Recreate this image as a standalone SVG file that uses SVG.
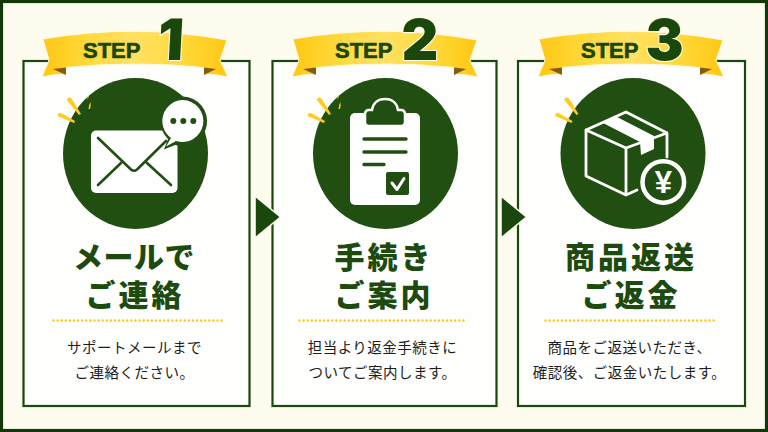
<svg xmlns="http://www.w3.org/2000/svg" xmlns:xlink="http://www.w3.org/1999/xlink" width="768" height="432" viewBox="0 0 768 432">
<style>
.card{fill:#fefefc;stroke:#1a470c;stroke-width:2.2}
.disc{fill:#214e11}
.h{font-family:"Noto Sans CJK JP","Noto Sans CJK SC",sans-serif;font-weight:900;font-size:30px;fill:#1d4a0e;text-anchor:middle;letter-spacing:3px}
.hn{letter-spacing:.5px}
.d{font-family:"Noto Sans CJK JP","Noto Sans CJK SC",sans-serif;font-weight:400;font-size:14.500px;fill:#1d1d1d;text-anchor:middle;letter-spacing:.5px}
.step{font-family:"Liberation Sans",sans-serif;font-weight:700;font-size:22px;fill:#1a470c;stroke:#1a470c;stroke-width:.6}
.num{font-family:"Inter","Liberation Sans",sans-serif;font-weight:900;font-size:57px;fill:#1a470c;stroke:#fffbe0;stroke-width:2.200;paint-order:stroke;text-anchor:middle}
.dots{stroke:#ffc414;stroke-width:2.400;stroke-linecap:round;stroke-dasharray:0 4.100;fill:none}
.spark{fill:#ffcb1f}
.dk{fill:none;stroke:#214e11;stroke-linecap:round;stroke-linejoin:round}
.wl{fill:none;stroke:#fff;stroke-width:2.800;stroke-linejoin:round;stroke-linecap:round}
.arrow{fill:#1a470c;stroke:#fffdf0;stroke-width:1.600;stroke-linejoin:round}
</style>
<defs>
<linearGradient id="gold" x1="0" x2="1" y1="0" y2="0">
<stop offset="0" stop-color="#ffc812"/><stop offset=".3" stop-color="#ffdc45"/><stop offset=".5" stop-color="#ffe062"/><stop offset=".72" stop-color="#ffdb40"/><stop offset="1" stop-color="#ffc812"/>
</linearGradient>
<g id="ribbon">
<path d="M-92 39Q0 23 92 40L85 60L93 77Q80 74 69 74L69 67.500Q0 60.500 -69 67.500L-69 74Q-80 74 -93 77L-86 60Z" fill="url(#gold)" stroke="#fffbe6" stroke-width="1"/>
<path d="M-82 69L-69 67.500L-69 75Z" fill="#8a5a10"/>
<path d="M81 69L69 67.500L69 75Z" fill="#8a5a10"/>
</g>
<g id="sparks" class="spark">
<path d="M66.500 99.500Q69 96 71.500 98.500L81 114L79 115Z"/>
<path d="M57.500 116Q58 112 62 113.500L75 121L74 123Z"/>
</g>
</defs>
<rect width="768" height="432" fill="#123806"/>
<rect x="3.500" y="3.500" width="761" height="425" fill="#fdfcee" stroke="#e8e8da" stroke-width="1"/>

<g id="step1">
<rect class="card" x="23.500" y="61" width="226" height="345"/>
<ellipse class="disc" cx="135.500" cy="153.500" rx="72.500" ry="75.500"/>
<use xlink:href="#ribbon" href="#ribbon" x="135"/>
<use xlink:href="#sparks" href="#sparks"/>
<path class="spark" d="M88.500 109Q89 104 90.500 102Q91 106 90 109Z"/>
<path class="spark" d="M87 100L88 96L89 96.500Z"/>
<rect x="91" y="130.500" width="86.500" height="62.500" rx="5" fill="#fff"/>
<path class="dk" stroke-width="2.600" d="M98 138L131 169.500Q134 172 137 169.500L166 141M98 185L121 163M171 185L147 163"/>
<path d="M183 96.500a24.800 24.800 0 1 1-8 48.500L164 149.500L168 139A24.800 24.800 0 0 1 183 96.500Z" fill="#214e11"/>
<path d="M183 100a21 21 0 1 1-7 41L166 146.500L171 138A21 21 0 0 1 183 100Z" fill="#fff"/>
<circle cx="173.300" cy="121" r="3" fill="#214e11"/><circle cx="183.300" cy="121" r="3" fill="#214e11"/><circle cx="193.300" cy="121" r="3" fill="#214e11"/>
<text class="step" x="83" y="57.500">STEP</text>
<text class="num" x="170" y="60" transform="skewX(-3) translate(3 0)">1</text>
<text class="h hn" x="134" y="268">メールで</text>
<text class="h" x="135" y="305.500">ご連絡</text>
<path class="dots" d="M53.500 320.500H222"/>
<text class="d" x="134.500" y="352.500" letter-spacing="1">サポートメールまで</text>
<text class="d" x="134.500" y="377.500">ご連絡ください。</text>
</g>

<g id="step2">
<rect class="card" x="272.500" y="61" width="224" height="345"/>
<ellipse class="disc" cx="385.500" cy="153.500" rx="72.500" ry="75.500"/>
<use xlink:href="#ribbon" href="#ribbon" x="385"/>
<use xlink:href="#sparks" href="#sparks" x="250"/>
<path class="spark" d="M338.500 109Q339 104 340.500 102Q341 106 340 109Z"/>
<path class="spark" d="M337 100L338 96L339 96.500Z"/>
<rect x="350" y="113" width="70" height="92" rx="5" fill="#fff"/>
<path d="M372 110C373 103 378 99 385 99C392 99 397 103 398 110L402 110Q405 111 405 114L405 122Q405 126 401 126L369 126Q365 126 365 122L365 114Q365 111 368 110Z" fill="#214e11" stroke="#fff" stroke-width="2.500"/>
<path class="dk" stroke-width="3.400" d="M364 139H406M364 152H406M364 164.500H384"/>
<rect x="386" y="172" width="23" height="23" rx="2" fill="#214e11"/>
<path class="wl" style="stroke-width:3" d="M392 183L397 189.500L404 178.500"/>
<text class="step" x="335" y="57.500">STEP</text>
<text class="num" x="420" y="60">2</text>
<text class="h" x="384" y="268">手続き</text>
<text class="h" x="384" y="305.500">ご案内</text>
<path class="dots" d="M299.500 320.500H467.500"/>
<text class="d" x="382.500" y="352.500">担当より返金手続きに</text>
<text class="d" x="382.500" y="377.500">ついてご案内します。</text>
</g>

<g id="step3">
<rect class="card" x="518" y="61" width="227" height="345"/>
<ellipse class="disc" cx="633" cy="153.500" rx="72.500" ry="75.500"/>
<use xlink:href="#ribbon" href="#ribbon" x="631"/>
<use xlink:href="#sparks" href="#sparks" x="497.500"/>
<path class="wl" d="M586 130L626 112L667 133V157M586 130V176L626 195L637 190M586 130L626 148L667 133M626 148V195"/>
<path d="M603 123L617 117L654 136L654 149L641 155L640 142Z" fill="#fff"/>
<circle cx="663.300" cy="182" r="20.800" fill="#214e11" stroke="#fff" stroke-width="4.500"/>
<text x="663.300" y="193" font-family="Liberation Sans, sans-serif" font-weight="700" font-size="31" fill="#fff" text-anchor="middle">¥</text>
<text class="step" x="581" y="57.500">STEP</text>
<text class="num" x="664.500" y="60">3</text>
<text class="h" x="631" y="268">商品返送</text>
<text class="h" x="631" y="305.500">ご返金</text>
<path class="dots" d="M545.500 320.500H715"/>
<text class="d" x="629.500" y="352.500">商品をご返送いただき、</text>
<text class="d" x="629.500" y="377.500">確認後、ご返金いたします。</text>
</g>

<g id="connectors">
<path class="arrow" d="M255 196L280.500 217L255 238Z"/>
<path class="arrow" d="M501 196L526.500 217L501 238Z"/>
</g>
</svg>
